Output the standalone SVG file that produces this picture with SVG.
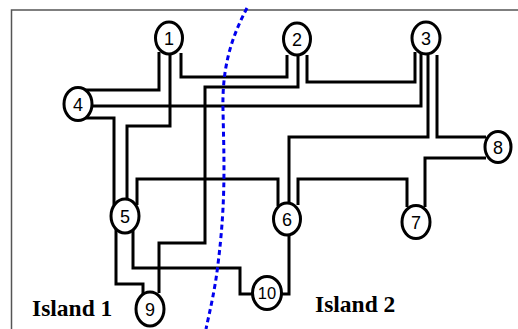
<svg xmlns="http://www.w3.org/2000/svg" width="518" height="329" viewBox="0 0 518 329">
<style>
.frame{fill:none;stroke:#555;stroke-width:1.5}
.ln{fill:none;stroke:#000;stroke-width:3;stroke-linejoin:miter}
.nd{fill:#fff;stroke:#000;stroke-width:3}
.nt{font-family:"Liberation Sans",Arial,sans-serif;font-size:18px;text-anchor:middle;fill:#000}
.isl{font-family:"Liberation Serif","Times New Roman",serif;font-size:23.5px;font-weight:bold;fill:#000}
.cut{fill:none;stroke:#0000ee;stroke-width:3;stroke-dasharray:5 3.5}
</style>
<rect width="518" height="329" fill="#fff"/>
<path class="frame" d="M11.5,329 V10 H518"/>
<g id="connectors">
<path class="ln" d="M159,52 V90 H85"/>
<path class="ln" d="M170,54 V126 H127 V200"/>
<path class="ln" d="M181,53 V77 H287 V55"/>
<path class="ln" d="M92,106 H421 V54"/>
<path class="ln" d="M85,118 H114 V205"/>
<path class="ln" d="M116,228 V284 H143 V294"/>
<path class="ln" d="M137,205 V179 H278 V206"/>
<path class="ln" d="M133,229 V268 H240 V294 H253"/>
<path class="ln" d="M298,55 V87 H205 V243 H159 V293"/>
<path class="ln" d="M307,55 V82 H415 V52"/>
<path class="ln" d="M428,55 V137 H289 V203"/>
<path class="ln" d="M437,55 V137 H486"/>
<path class="ln" d="M486,158 H425 V207"/>
<path class="ln" d="M298,205 V179 H407 V207"/>
<path class="ln" d="M289,234 V294 H281"/>
</g>
<path class="cut" d="M247,8 C230,40 222,70 223,110 C224,160 226,200 218,264 C215,290 210,310 206,329"/>
<g id="n1"><ellipse class="nd" cx="169" cy="38" rx="13.5" ry="16"/><text class="nt" x="169" y="44.5">1</text></g>
<g id="n2"><ellipse class="nd" cx="297" cy="39" rx="13.5" ry="16"/><text class="nt" x="297" y="45.5">2</text></g>
<g id="n3"><ellipse class="nd" cx="426" cy="38" rx="14" ry="16"/><text class="nt" x="426" y="44.5">3</text></g>
<g id="n4"><ellipse class="nd" cx="78" cy="104" rx="14" ry="16.5"/><text class="nt" x="78" y="110.5">4</text></g>
<g id="n5"><ellipse class="nd" cx="125" cy="216" rx="14" ry="17"/><text class="nt" x="125" y="222.5">5</text></g>
<g id="n6"><ellipse class="nd" cx="287" cy="219" rx="13.5" ry="16"/><text class="nt" x="287" y="225.5">6</text></g>
<g id="n7"><ellipse class="nd" cx="416" cy="222" rx="14" ry="16.5"/><text class="nt" x="416" y="228.5">7</text></g>
<g id="n8"><ellipse class="nd" cx="498" cy="147" rx="13" ry="15.5"/><text class="nt" x="498" y="153.5">8</text></g>
<g id="n9"><ellipse class="nd" cx="150" cy="309" rx="14" ry="17"/><text class="nt" x="150" y="315.5">9</text></g>
<g id="n10"><ellipse class="nd" cx="267" cy="293" rx="14.5" ry="16.5"/><text class="nt" x="267" y="299" style="font-size:16.5px">10</text></g>
<text class="isl" x="32" y="316">Island 1</text>
<text class="isl" x="315" y="312">Island 2</text>
</svg>
